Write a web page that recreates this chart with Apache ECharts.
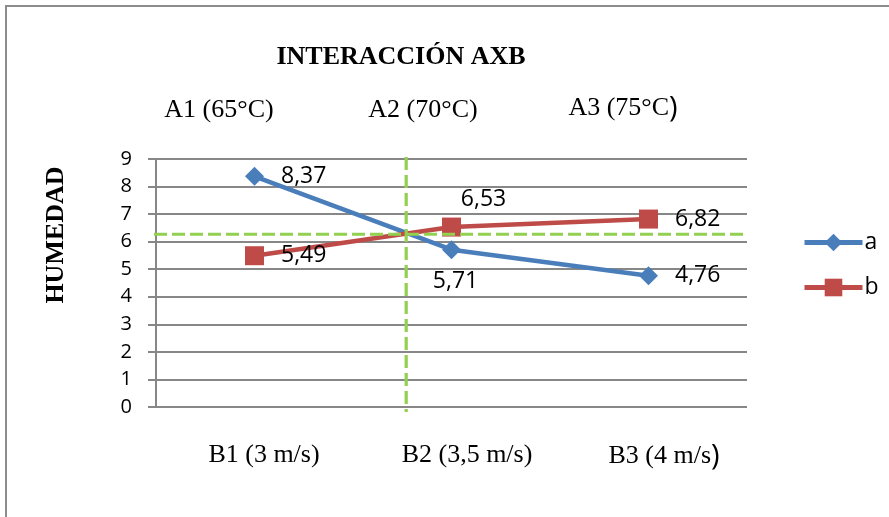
<!DOCTYPE html>
<html>
<head>
<meta charset="utf-8">
<script src="https://cdn.jsdelivr.net/npm/echarts@6/dist/echarts.min.js"></script>
<style>
  html, body { margin: 0; padding: 0; background: #fff; }
  #chart { width: 889px; height: 517px; }
</style>
</head>
<body>
<div id="chart"></div>
<script>
// Categories (air speed) and the temperature level shown above each one
const speedLabels = ['B1 (3 m/s)', 'B2 (3,5 m/s)', 'B3 (4 m/s)'];
const tempLabels = ['A1 (65°C)', 'A2 (70°C)', 'A3 (75°C)'];

// Moisture values for each series
const seriesA = [8.37, 5.71, 4.76];
const seriesB = [5.49, 6.53, 6.82];

// Y axis ticks
const yTicks = [0, 1, 2, 3, 4, 5, 6, 7, 8, 9];

// Crossing point of the two interaction lines (category position, humidity)
const crossPosition = [0.77];
const crossHumidity = [6.27];

const SERIF = '"Liberation Serif", "Times New Roman", serif';
const SANS = '"Open Sans", "Noto Sans", sans-serif';
const GRID_GREY = '#878787';
const BLUE = '#4a7ebb';
const RED = '#be4b48';
const GREEN = '#92d050';

const fmt = v => String(v).replace('.', ',');

// Horizontal nudge of each category caption, in px of padding (positive = move right)
const bShift = [19, 31, 31];
const aShift = [-71, -57, -51];

function captionAxisLabel(shifts, fontSize, margin) {
  const rich = {};
  shifts.forEach((s, i) => {
    const pad = s >= 0 ? [0, 0, 0, s] : [0, -s, 0, 0];
    // text part
    rich['s' + i] = { fontFamily: SERIF, fontSize: fontSize, color: '#000',
      padding: (i === 2 && s < 0) ? [0, 0, 0, 0] : pad };
    // closing bracket drawn in the sans face for the last caption
    rich['p' + i] = { fontFamily: SANS, fontSize: fontSize + 3, color: '#000',
      padding: s < 0 ? pad : [0, 0, 0, 0] };
  });
  return {
    margin: margin,
    rich: rich,
    formatter: (value, index) => index === 2
      ? '{s2|' + value.slice(0, -1) + '}{p2|)}'
      : '{s' + index + '|' + value + '}'
  };
}

// Label placement for each point of each series
const labelA = [
  { position: 'right', distance: 17 },
  { position: 'bottom', distance: 11, offset: [4, 0] },
  { position: 'right', distance: 17 }
];
const labelB = [
  { position: 'right', distance: 17 },
  { position: 'top', distance: 7, offset: [32, 0] },
  { position: 'right', distance: 17 }
];

const labelText = { fontFamily: SANS, fontSize: 23, color: '#000', formatter: p => fmt(p.value) };

const chart = echarts.init(document.getElementById('chart'), null, { renderer: 'canvas' });

chart.setOption({
  animation: false,
  backgroundColor: '#fff',
  grid: { left: 156, right: 142, top: 159, bottom: 110, containLabel: false },
  xAxis: [
    {
      type: 'category',
      data: speedLabels,
      boundaryGap: true,
      axisLine: { show: false },
      axisTick: { show: false },
      axisLabel: captionAxisLabel(bShift, 26, 35)
    },
    {
      type: 'category',
      data: tempLabels,
      position: 'top',
      boundaryGap: true,
      axisLine: { show: false },
      axisTick: { show: false },
      axisLabel: captionAxisLabel(aShift, 26, 36)
    },
    { type: 'value', min: -0.5, max: 2.5, show: false }
  ],
  yAxis: {
    type: 'value',
    min: yTicks[0],
    max: yTicks[yTicks.length - 1],
    interval: 1,
    axisLine: { show: true, onZero: false, lineStyle: { color: GRID_GREY, width: 2 } },
    axisTick: { show: true, length: 8, lineStyle: { color: GRID_GREY, width: 2 } },
    splitLine: { show: true, lineStyle: { color: GRID_GREY, width: 2 } },
    axisLabel: { margin: 24, fontFamily: SANS, fontSize: 20, color: '#000' }
  },
  legend: {
    data: ['a', 'b'],
    orient: 'vertical',
    left: 797,
    top: 226,
    itemWidth: 58,
    itemHeight: 22,
    itemGap: 22,
    lineStyle: { width: 5 },
    textStyle: { fontFamily: SANS, fontSize: 23, color: '#000', padding: [0, 0, 0, -3] }
  },
  graphic: [
    {
      type: 'rect',
      shape: { x: 6, y: 6, width: 1200, height: 1200 },
      style: { fill: 'none', stroke: '#8c8c8c', lineWidth: 2 },
      silent: true
    },
    {
      type: 'text', x: 401, y: 57,
      style: {
        text: 'INTERACCIÓN AXB', fontFamily: SERIF, fontWeight: 'bold', fontSize: 26,
        fill: '#000', align: 'center', verticalAlign: 'middle'
      }
    },
    {
      type: 'text', x: 56, y: 235, rotation: Math.PI / 2,
      style: {
        text: 'HUMEDAD', fontFamily: SERIF, fontWeight: 'bold', fontSize: 26,
        fill: '#000', align: 'center', verticalAlign: 'middle'
      }
    }
  ],
  series: [
    {
      name: 'a',
      type: 'line',
      data: seriesA.map((v, i) => ({ value: v, label: labelA[i] })),
      symbol: 'diamond',
      symbolSize: 19,
      itemStyle: { color: BLUE },
      lineStyle: { color: BLUE, width: 4.5 },
      label: Object.assign({ show: true }, labelText),
      z: 3
    },
    {
      name: 'b',
      type: 'line',
      data: seriesB.map((v, i) => ({ value: v, label: labelB[i] })),
      symbol: 'rect',
      symbolSize: 19,
      itemStyle: { color: RED },
      lineStyle: { color: RED, width: 4.5 },
      label: Object.assign({ show: true }, labelText),
      z: 3
    },
    {
      name: 'vertical reference',
      type: 'line',
      xAxisIndex: 2,
      data: [[crossPosition[0], 9.07], [crossPosition[0], -0.18]],
      symbol: 'none',
      clip: false,
      lineStyle: { color: GREEN, width: 3.2, type: [13, 5] },
      silent: true,
      z: 4
    },
    {
      name: 'horizontal reference',
      type: 'line',
      xAxisIndex: 2,
      data: [[-0.51, crossHumidity[0]], [2.505, crossHumidity[0]]],
      symbol: 'none',
      clip: false,
      lineStyle: { color: GREEN, width: 3.2, type: [13, 5] },
      silent: true,
      z: 4
    }
  ]
});
</script>
</body>
</html>
